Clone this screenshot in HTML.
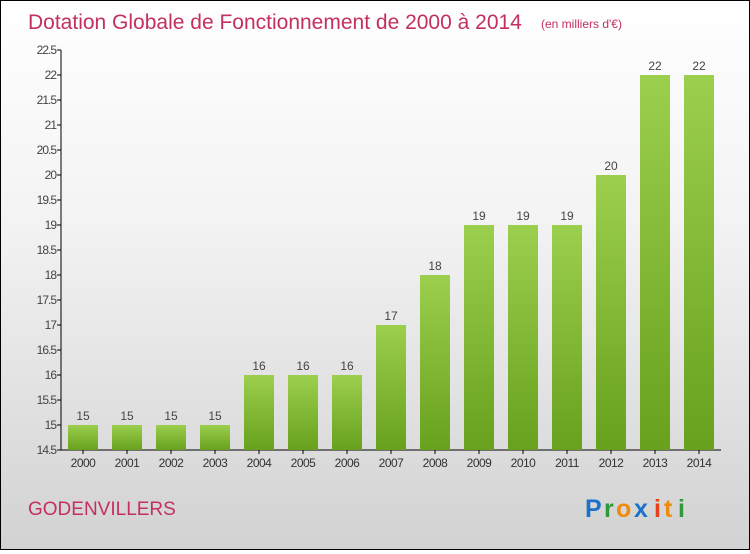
<!DOCTYPE html>
<html><head><meta charset="utf-8"><style>
body{margin:0;width:750px;height:550px;overflow:hidden}
#c{position:relative;width:748px;height:548px;border:1px solid #000;background:linear-gradient(#ffffff,#f3f3f3 40%,#d2d2d2);font-family:"Liberation Sans",sans-serif}
</style></head><body>
<div id="c">
<svg width="748" height="548">
<defs><linearGradient id="g" x1="0" y1="0" x2="0" y2="1"><stop offset="0" stop-color="#9ccf4e"/><stop offset="1" stop-color="#67a11d"/></linearGradient></defs>
<text x="27" y="28" font-size="21" fill="#c4305e">Dotation Globale de Fonctionnement de 2000 à 2014</text>
<text x="540" y="27" font-size="12" fill="#c4305e">(en milliers d'€)</text>
<text x="27" y="514" font-size="19" fill="#c4305e">GODENVILLERS</text>
<g font-size="25" font-weight="bold"><text x="584" y="516" fill="#1a73c8">P</text><text x="603" y="516" fill="#2e9a3a">r</text><text x="615" y="516" fill="#f08a0a">o</text><text x="633" y="516" fill="#1a73c8">x</text><text x="653" y="516" fill="#e8401c">i</text><text x="663" y="516" fill="#f08a0a">t</text><text x="677" y="516" fill="#2e9a3a">i</text></g>
<g id="plot"></g>
</svg>
</div>
<script>
const years=["2000","2001","2002","2003","2004","2005","2006","2007","2008","2009","2010","2011","2012","2013","2014"];
const values=[15,15,15,15,16,16,16,17,18,19,19,19,20,22,22];
const yTicks=[14.5,15,15.5,16,16.5,17,17.5,18,18.5,19,19.5,20,20.5,21,21.5,22,22.5];
const NS="http://www.w3.org/2000/svg";
const g=document.getElementById('plot');
const y=v=>449-(v-14.5)*50;
const x=i=>82+i*44;
function mk(t,a,txt){const e=document.createElementNS(NS,t);for(const k in a)e.setAttribute(k,a[k]);if(txt!=null)e.textContent=txt;g.appendChild(e);return e;}
let e=mk('line',{x1:60,y1:49,x2:60,y2:449,stroke:'#000'});


e=mk('line',{x1:60,y1:449,x2:720,y2:449,stroke:'#000'});


yTicks.forEach(v=>{
 mk('line',{x1:56,y1:y(v),x2:60,y2:y(v),stroke:'#000'});
 const t=mk('text',{x:55,y:y(v)+4,'text-anchor':'end','font-size':12,fill:'#444','letter-spacing':'-1'},String(v));
 
 
});
years.forEach((yr,i)=>{
 const b=mk('rect',{x:x(i)-15,y:y(values[i]),width:30,height:449-y(values[i]),fill:'url(#g)'});
 
 
 mk('line',{x1:x(i),y1:449,x2:x(i),y2:453,stroke:'#000'});
 const l=mk('text',{x:x(i),y:466,'text-anchor':'middle','font-size':12,fill:'#333','letter-spacing':'-0.5'},yr);
 
 
 const v=mk('text',{x:x(i),y:y(values[i])-5,'text-anchor':'middle','font-size':12,fill:'#444'},String(values[i]));
 
 
});
</script>
</body></html>
